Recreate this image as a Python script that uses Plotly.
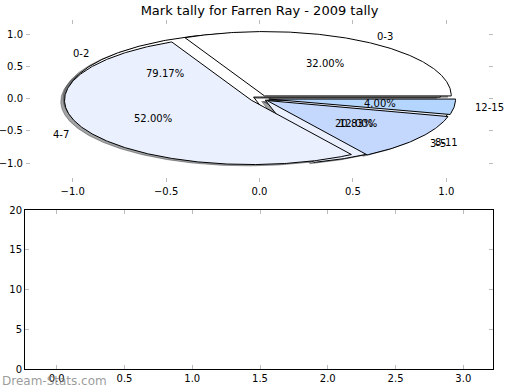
import numpy as np
import plotly.graph_objects as go

# ---- data ----
labels_a = ["0-3", "4-7", "8-11", "12-15"]
values_a = [8, 13, 3, 1]
colors_a = ["#FFFFFF", "#EAF0FE", "#C4D8FE", "#B4D5FE"]
explode_a = 0.05

labels_b = ["0-2", "3-5"]
values_b = [19, 5]
colors_b = ["#FFFFFF", "#EAF0FE"]
explode_b = 0.04

title = "Mark tally for Farren Ray - 2009 tally"
watermark = "Dream-Stats.com"

W, H = 520, 390
FONT = "DejaVu Sans"


def darken(hexcol, rho=0.3, alpha=0.5):
    h = hexcol.lstrip("#")
    r, g, b = (int(h[i:i + 2], 16) for i in (0, 2, 4))
    return f"rgba({int(r*rho)},{int(g*rho)},{int(b*rho)},{alpha})"


def wedges(values, explode):
    total = float(sum(values))
    out = []
    t1 = 0.0
    for v in values:
        frac = v / total
        t2 = t1 + 360.0 * frac
        mid = np.deg2rad((t1 + t2) / 2)
        cx, cy = explode * np.cos(mid), explode * np.sin(mid)
        ang = np.deg2rad(np.linspace(t1, t2, max(8, int((t2 - t1) * 2))))
        xs = np.concatenate([[cx], cx + np.cos(ang), [cx]])
        ys = np.concatenate([[cy], cy + np.sin(ang), [cy]])
        out.append(dict(xs=xs, ys=ys, cx=cx, cy=cy, mid=mid, frac=frac))
        t1 = t2
    return out


wa = wedges(values_a, explode_a)
wb = wedges(values_b, explode_b)

fig = go.Figure()

# shadows (drawn below everything)
for ws, cols in ((wb, colors_b), (wa, colors_a)):
    for w, c in zip(ws, cols):
        fig.add_trace(go.Scatter(x=w["xs"] - 0.02, y=w["ys"] - 0.02, mode="lines",
                                 fill="toself", fillcolor=darken(c),
                                 line=dict(color=darken(c), width=1),
                                 hoverinfo="skip", showlegend=False,
                                 xaxis="x", yaxis="y"))
# wedges: second pie below, first pie on top
for ws, cols in ((wb, colors_b), (wa, colors_a)):
    for w, c in zip(ws, cols):
        fig.add_trace(go.Scatter(x=w["xs"], y=w["ys"], mode="lines",
                                 fill="toself", fillcolor=c,
                                 line=dict(color="black", width=1),
                                 hoverinfo="skip", showlegend=False,
                                 xaxis="x", yaxis="y"))

annotations = []
for ws, labs in ((wb, labels_b), (wa, labels_a)):
    for w, lab in zip(ws, labs):
        lx = w["cx"] + 1.1 * np.cos(w["mid"])
        ly = w["cy"] + 1.1 * np.sin(w["mid"])
        annotations.append(dict(x=lx, y=ly, xref="x", yref="y", text=lab,
                                showarrow=False, xanchor="left" if lx > 0 else "right",
                                yanchor="middle", font=dict(family=FONT, size=10, color="black")))
        tx = w["cx"] + 0.6 * np.cos(w["mid"])
        ty = w["cy"] + 0.6 * np.sin(w["mid"])
        annotations.append(dict(x=tx, y=ty, xref="x", yref="y", text=f"{w['frac']*100:.2f}%",
                                showarrow=False, xanchor="center", yanchor="middle",
                                font=dict(family=FONT, size=10, color="black")))

# empty lower axes
fig.add_trace(go.Scatter(x=[], y=[], xaxis="x2", yaxis="y2", showlegend=False))

annotations.append(dict(x=0, y=1 - 381 / H, xref="paper", yref="paper", text=watermark,
                        showarrow=False, xanchor="left", yanchor="middle",
                        font=dict(family=FONT, size=12, color="rgba(130,130,130,0.8)")))

tickcommon = dict(ticks="inside", ticklen=4, tickcolor="#BBBBBB", tickwidth=1,
                  showgrid=False, zeroline=False, automargin=False,
                  tickfont=dict(family=FONT, size=10, color="black"))

fig.update_layout(
    template="none",
    width=W, height=H,
    margin=dict(l=0, r=0, t=0, b=0, pad=0),
    paper_bgcolor="white", plot_bgcolor="white",
    title=dict(text=title, x=259.5 / W, xanchor="center", y=1 - 10 / H, yanchor="middle",
               automargin=False, font=dict(family=FONT, size=13, color="black")),
    xaxis=dict(domain=[26 / W, 493 / W], range=[-1.25, 1.25], anchor="y",
               tickvals=[-1.0, -0.5, 0.0, 0.5, 1.0], tickformat=".1f",
               showline=True, linecolor="rgba(0,0,0,0)", mirror="ticks", **tickcommon),
    yaxis=dict(domain=[1 - 182 / H, 1 - 20 / H], range=[-1.295, 1.222], anchor="x",
               tickvals=[-1.0, -0.5, 0.0, 0.5, 1.0], tickformat=".1f",
               showline=True, linecolor="rgba(0,0,0,0)", mirror="ticks", **tickcommon),
    xaxis2=dict(domain=[25 / W, 493 / W], range=[-0.234, 3.219], anchor="y2",
                tickvals=[0, 0.5, 1.0, 1.5, 2.0, 2.5, 3.0], tickformat=".1f",
                showline=True, linecolor="black", linewidth=1, mirror="ticks", **tickcommon),
    yaxis2=dict(domain=[1 - 369 / H, 1 - 210 / H], range=[0, 20], anchor="x2",
                tickvals=[0, 5, 10, 15, 20],
                showline=True, linecolor="black", linewidth=1, mirror="ticks", **tickcommon),
    annotations=annotations,
)

fig.write_html("out.html", config={"displayModeBar": False},
               post_script="document.body.style.margin='0';document.body.style.padding='0';")
